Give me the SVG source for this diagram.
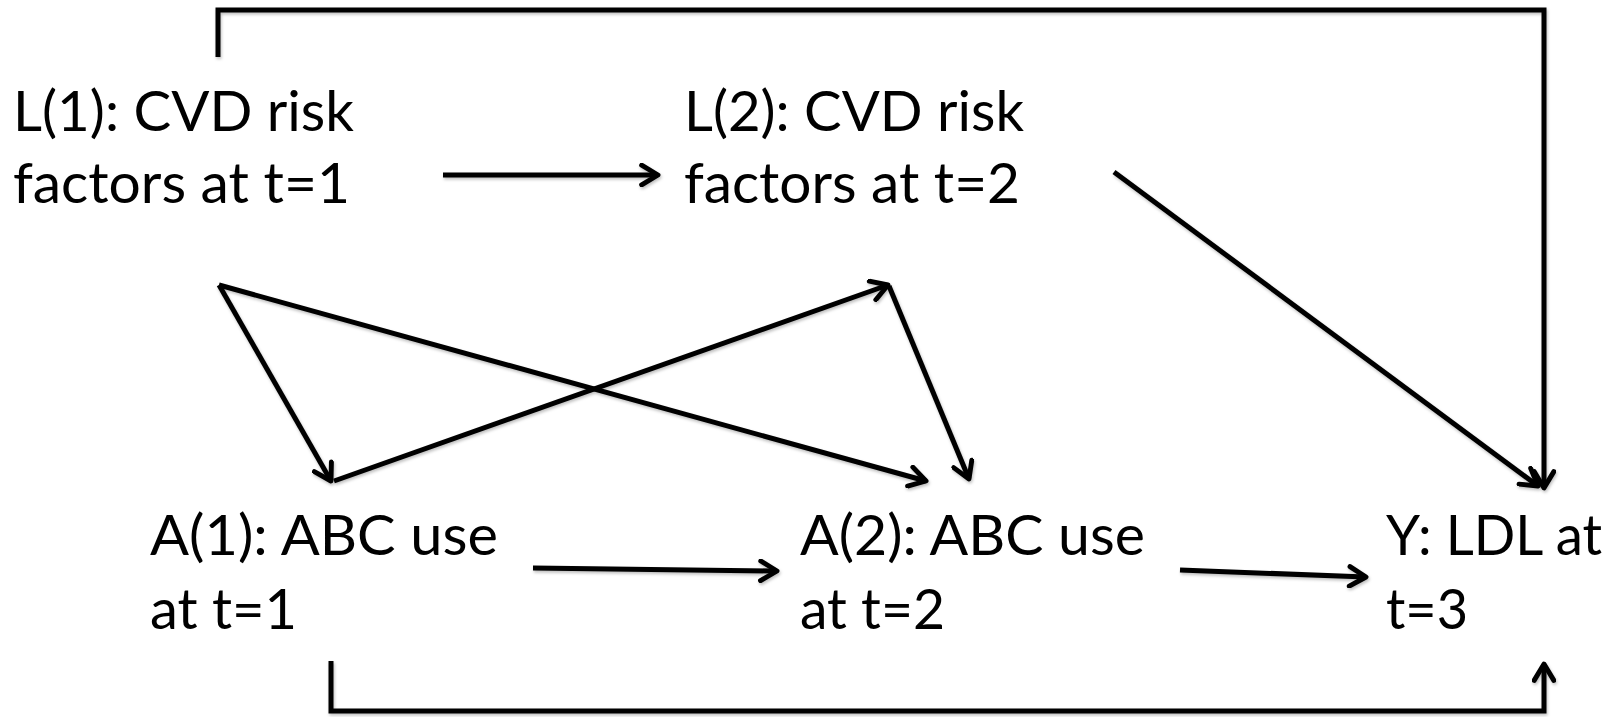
<svg xmlns="http://www.w3.org/2000/svg" width="1614" height="717" viewBox="0 0 1614 717">
  <defs>
    <style>
      .lbl { font-family: Lato, "Open Sans", "Liberation Sans", sans-serif; font-size: 57px; fill: #000; }
      .edge { fill: none; stroke: #000; stroke-width: 5; stroke-linecap: butt; stroke-linejoin: miter; marker-end: url(#head); }
    </style>
    <marker id="head" viewBox="0 0 22 22" markerUnits="userSpaceOnUse" markerWidth="24" markerHeight="24" refX="19" refY="11" orient="auto">
      <path d="M4,2 L19,11 L4,20" fill="none" stroke="#000" stroke-width="4.5" stroke-linecap="round" stroke-linejoin="round"/>
    </marker>
    <filter id="shade" x="-5%" y="-5%" width="110%" height="110%">
      <feDropShadow dx="1" dy="2" stdDeviation="1.5" flood-color="#000" flood-opacity="0.25"/>
    </filter>
  </defs>

  <rect width="1614" height="717" fill="#fff"/>

  <!-- connectors -->
  <g id="connectors" filter="url(#shade)">
    <!-- L(1) to Y over the top -->
    <path class="edge" d="M218,57 L218,10 L1544,10 L1544,488"/>
    <!-- L(1) to L(2) -->
    <path class="edge" d="M443,175 L658,175"/>
    <!-- L(2) to Y -->
    <path class="edge" d="M1114,172 L1538,486"/>
    <!-- L(1) to A(1) -->
    <path class="edge" d="M219,285 L331,481"/>
    <!-- L(1) to A(2) -->
    <path class="edge" d="M219,285 L926,481"/>
    <!-- A(1) to L(2) -->
    <path class="edge" d="M334,481 L888,285"/>
    <!-- L(2) to A(2) -->
    <path class="edge" d="M889,286 L969,479"/>
    <!-- A(1) to A(2) -->
    <path class="edge" d="M533,568 L777,571"/>
    <!-- A(2) to Y -->
    <path class="edge" d="M1180,570 L1366,577"/>
    <!-- A(1) to Y along the bottom -->
    <path class="edge" d="M331,661 L331,711 L1544,711 L1544,664"/>
  </g>

  <g id="L1">
    <text class="lbl" x="13" y="131" textLength="341" lengthAdjust="spacingAndGlyphs">L(1): CVD risk</text>
    <text class="lbl" x="13" y="203" textLength="337" lengthAdjust="spacingAndGlyphs">factors at t=1</text>
  </g>
  <g id="L2">
    <text class="lbl" x="684" y="131" textLength="340" lengthAdjust="spacingAndGlyphs">L(2): CVD risk</text>
    <text class="lbl" x="684" y="203" textLength="336" lengthAdjust="spacingAndGlyphs">factors at t=2</text>
  </g>
  <g id="A1">
    <text class="lbl" x="150" y="555" textLength="348" lengthAdjust="spacingAndGlyphs">A(1): ABC use</text>
    <text class="lbl" x="150" y="629" textLength="147" lengthAdjust="spacingAndGlyphs">at t=1</text>
  </g>
  <g id="A2">
    <text class="lbl" x="800" y="555" textLength="345" lengthAdjust="spacingAndGlyphs">A(2): ABC use</text>
    <text class="lbl" x="800" y="629" textLength="145" lengthAdjust="spacingAndGlyphs">at t=2</text>
  </g>
  <g id="Y">
    <text class="lbl" x="1386" y="555" textLength="216" lengthAdjust="spacingAndGlyphs">Y: LDL at</text>
    <text class="lbl" x="1386" y="629" textLength="82" lengthAdjust="spacingAndGlyphs">t=3</text>
  </g>
</svg>
